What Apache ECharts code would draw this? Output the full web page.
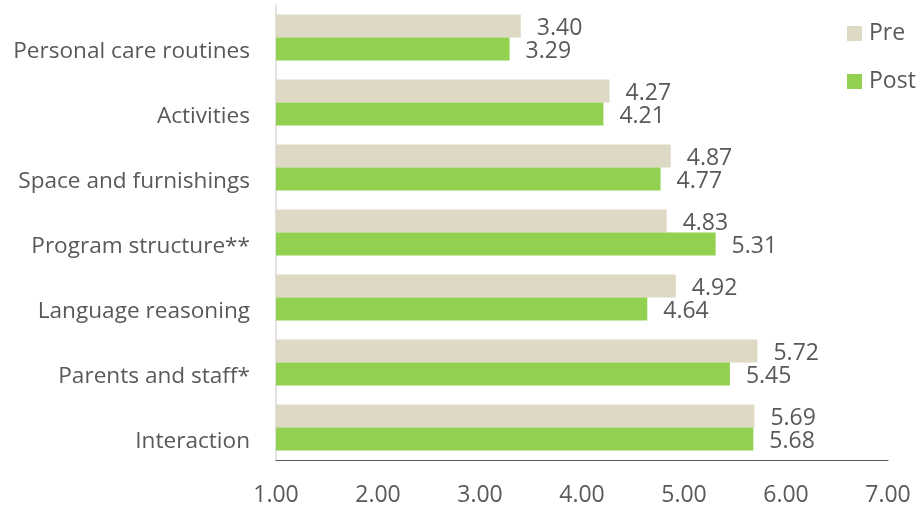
<!DOCTYPE html>
<html><head><meta charset="utf-8">
<script src="https://cdn.jsdelivr.net/npm/echarts@6/dist/echarts.min.js"></script>
<style>html,body{margin:0;padding:0;background:#fff}#c{width:917px;height:509px}</style>
</head><body><div id="c"></div>
<script>
const categories = ['Personal care routines', 'Activities', 'Space and furnishings', 'Program structure**', 'Language reasoning', 'Parents and staff*', 'Interaction'];
const preValues = [3.40, 4.27, 4.87, 4.83, 4.92, 5.72, 5.69];
const postValues = [3.29, 4.21, 4.77, 5.31, 4.64, 5.45, 5.68];
const xTicks = ['1.00', '2.00', '3.00', '4.00', '5.00', '6.00', '7.00'];

const FONT = '"Open Sans", sans-serif';
const GREY = '#595959';
const chart = echarts.init(document.getElementById('c'), null, {renderer: 'canvas'});
const labelCfg = {show: true, position: 'right', distance: 16, offset: [0, 2], color: GREY, fontFamily: FONT, fontSize: 23,
  formatter: p => p.value.toFixed(2)};
chart.setOption({
  animation: false,
  grid: {left: 276, right: 29, top: 5, bottom: 49, containLabel: false},
  legend: {
    orient: 'vertical', left: 847, top: 22, padding: 0, itemWidth: 15, itemHeight: 15, itemGap: 25,
    icon: 'rect',
    textStyle: {color: GREY, fontFamily: FONT, fontSize: 23, padding: [0, 0, 0, 2]},
    data: ['Pre', 'Post']
  },
  xAxis: {
    type: 'value', min: 1, max: 7, interval: 1,
    axisLine: {show: true, lineStyle: {color: GREY, width: 1.2}},
    axisTick: {show: false}, splitLine: {show: false},
    axisLabel: {color: GREY, fontFamily: FONT, fontSize: 23, margin: 24,
      formatter: v => xTicks[Math.round(v) - 1]}
  },
  yAxis: {
    type: 'category', inverse: true, data: categories,
    axisLine: {show: true, lineStyle: {color: '#d9d9d9', width: 1.5}},
    axisTick: {show: false},
    axisLabel: {color: GREY, fontFamily: FONT, fontSize: 22.6, margin: 26, verticalAlign: 'top', lineHeight: 28}
  },
  series: [
    {name: 'Pre', type: 'bar', data: preValues, barWidth: 23, barGap: '0%',
      itemStyle: {color: '#DDD9C4'}, label: labelCfg},
    {name: 'Post', type: 'bar', data: postValues, barWidth: 23, barGap: '0%',
      itemStyle: {color: '#92D050'}, label: labelCfg}
  ]
});
</script></body></html>
